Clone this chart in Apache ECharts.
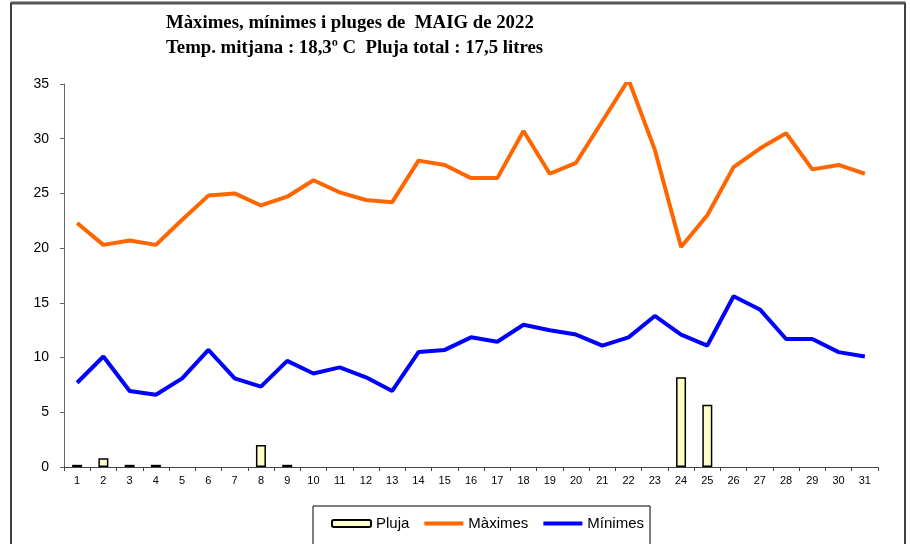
<!DOCTYPE html>
<html>
<head>
<meta charset="utf-8">
<script src="https://cdn.jsdelivr.net/npm/echarts@6/dist/echarts.min.js"></script>
<style>
html,body{margin:0;padding:0;background:#fff;}
#chart{width:910px;height:544px;}
</style>
</head>
<body>
<div id="chart"></div>
<script>
const titleLines = ['Màximes, mínimes i pluges de  MAIG de 2022', 'Temp. mitjana : 18,3º C  Pluja total : 17,5 litres'];
const days = ['1','2','3','4','5','6','7','8','9','10','11','12','13','14','15','16','17','18','19','20','21','22','23','24','25','26','27','28','29','30','31'];
const pluja = [0.2,0.8,0.2,0.2,null,null,null,2.0,0.2,null,null,null,null,null,null,null,null,null,null,null,null,null,null,8.2,5.7,null,null,null,null,null,null];
const maximes = [22.3,20.3,20.7,20.3,22.6,24.8,25.0,23.9,24.7,26.2,25.1,24.4,24.2,28.0,27.6,26.4,26.4,30.7,26.8,27.8,31.6,35.4,29.0,20.1,23.0,27.4,29.1,30.5,27.2,27.6,26.8];
const minimes = [7.7,10.1,6.95,6.6,8.1,10.7,8.1,7.35,9.7,8.55,9.1,8.2,6.95,10.5,10.7,11.85,11.45,13.0,12.5,12.1,11.1,11.85,13.8,12.1,11.1,15.6,14.4,11.7,11.7,10.5,10.1];
const yTicks = {min:0, max:35, interval:5};

const lineIcon = 'path://M0,0H40V4H0Z';
const chart = echarts.init(document.getElementById('chart'), null, {renderer:'canvas'});
chart.setOption({
  backgroundColor:'#fff',
  animation:false,
  title:{
    text: titleLines.join('\n'),
    left:166, top:11, padding:0,
    textStyle:{fontFamily:'Liberation Serif', fontWeight:'bold', fontSize:18.8, lineHeight:25, color:'#000'}
  },
  graphic:[
    {type:'rect', shape:{x:11, y:3, width:894, height:560}, style:{fill:'none', stroke:'#000', lineWidth:1.5}, silent:true},
    {type:'line', shape:{x1:11, y1:3, x2:905, y2:3}, style:{stroke:'#555', lineWidth:3}, silent:true}
  ],
  legend:{
    left:313, top:506,
    padding:[10,6,30,18],
    borderColor:'#000', borderWidth:1,
    itemWidth:39, itemHeight:7, itemGap:15,
    textStyle:{fontFamily:'Liberation Sans', fontSize:15, color:'#000'},
    data:[
      {name:'Pluja'},
      {name:'Màximes', icon: lineIcon, itemStyle:{color:'#FF6600', borderWidth:0}},
      {name:'Mínimes', icon: lineIcon, itemStyle:{color:'#0000FF', borderWidth:0}}
    ]
  },
  grid:{left:64, right:32, top:84, bottom:77, containLabel:false},
  xAxis:{
    type:'category', data:days, boundaryGap:true,
    axisLine:{lineStyle:{color:'#444', width:1}},
    axisTick:{show:true, length:4, inside:false, lineStyle:{color:'#444'}},
    axisLabel:{fontFamily:'Liberation Sans', fontSize:11, color:'#000', margin:8, interval:0}
  },
  yAxis:{
    type:'value', min:yTicks.min, max:yTicks.max, interval:yTicks.interval,
    splitLine:{show:false},
    axisLine:{show:true, lineStyle:{color:'#666', width:1}},
    axisTick:{show:true, length:4, lineStyle:{color:'#666'}},
    axisLabel:{fontFamily:'Liberation Sans', fontSize:14, color:'#000', margin:15}
  },
  series:[
    {name:'Pluja', type:'bar', data:pluja, barWidth:10,
     itemStyle:{color:'#FFFFC8', borderColor:'#000', borderWidth:1.5}},
    {name:'Màximes', type:'line', data:maximes, symbol:'none', clip:true,
     lineStyle:{color:'#FF6600', width:4}, itemStyle:{color:'#FF6600'}},
    {name:'Mínimes', type:'line', data:minimes, symbol:'none',
     lineStyle:{color:'#0000FF', width:4}, itemStyle:{color:'#0000FF'}}
  ]
});
</script>
</body>
</html>
